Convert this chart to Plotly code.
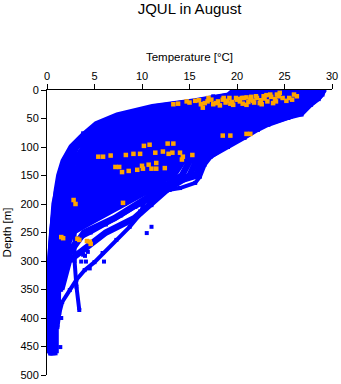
import plotly.graph_objects as go

# ---------------- data ----------------
DEPTH_LEVELS = [0, 10, 20, 30, 45, 60, 80, 100, 125, 150, 175, 200, 225, 250, 300, 350, 400, 462]

# temperature of each profile at DEPTH_LEVELS (None = profile ended)
PROFILE_TEMPS = [
    [19.8, 19.1, 15.6, 11.1, 7.4, 5.2, 3.8, 2.6, 1.75, 1.3, 1.05, 0.85, 0.7, 0.55, 0.35, 0.3, 0.25, 0.35],
    [20.0, 19.3, 15.9, 11.5, 7.9, 5.8, 4.3, 3.1, 2.3, 1.7, 1.1, 0.8, 0.65, 0.5, 0.35, 0.3, 0.3, 0.35],
    [20.5, 19.6, 16.4, 12.3, 8.7, 6.6, 5.1, 3.9, 2.9, 2.2, 1.4, 0.9, 0.7, 0.6, 0.4, 0.35, 0.35, 0.45],
    [20.9, 20.0, 16.9, 13.0, 9.5, 7.4, 5.8, 4.6, 3.6, 2.8, 1.7, 1.0, 0.75, 0.6, 0.45, None, None, None],
    [21.3, 20.4, 17.5, 13.8, 10.4, 8.2, 6.6, 5.3, 4.3, 3.4, 2.0, 1.1, 0.85, 0.7, 0.5, 0.45, 0.45, 0.55],
    [21.7, 20.8, 18.1, 14.5, 11.2, 9.0, 7.4, 6.1, 4.9, 4.0, 2.4, 1.2, 0.9, 0.7, 0.55, 0.5, None, None],
    [22.2, 21.3, 18.7, 15.2, 12.1, 9.9, 8.2, 6.8, 5.6, 4.6, 2.7, 1.4, 1.0, 0.8, 0.6, 0.55, 0.55, None],
    [22.6, 21.8, 19.3, 16.0, 12.9, 10.7, 8.9, 7.5, 6.3, 5.2, 3.2, 1.7, 1.2, 0.9, 0.65, None, None, None],
    [23.0, 22.2, 19.9, 16.7, 13.8, 11.5, 9.7, 8.3, 7.0, 5.8, 3.6, 1.9, 1.3, 1.0, 0.7, 0.65, 0.65, 0.7],
    [23.5, 22.7, 20.4, 17.4, 14.6, 12.3, 10.5, 9.0, 7.6, 6.4, 4.1, 2.2, 1.5, 1.0, 0.75, None, None, None],
    [23.9, 23.2, 21.0, 18.2, 15.5, 13.1, 11.3, 9.8, 8.3, 7.0, 4.6, 2.6, 1.7, 1.1, 0.8, 0.75, 0.75, None],
    [24.3, 23.6, 21.6, 18.9, 16.3, 13.9, 12.1, 10.5, 9.0, 7.7, 5.1, 2.9, 1.9, 1.2, 0.85, None, None, None],
    [24.8, 24.1, 22.2, 19.7, 17.2, 14.7, 12.8, 11.2, 9.6, 8.3, 5.6, 3.4, 2.1, 1.3, 0.9, 0.85, 0.85, 0.9],
    [25.2, 24.5, 22.8, 20.4, 18.0, 15.5, 13.6, 12.0, 10.3, 9.0, 6.2, 3.8, 2.4, 1.4, None, None, None, None],
    [25.6, 25.0, 23.4, 21.2, 18.9, 16.3, 14.4, 12.7, 11.0, 9.7, 6.8, 4.3, 2.7, 1.5, 1.0, 1.0, None, None],
    [26.1, 25.5, 23.9, 21.9, 19.7, 17.1, 15.2, 13.4, 11.6, 10.4, 7.3, 4.8, 3.0, 1.6, 1.1, None, None, None],
    [26.5, 25.9, 24.5, 22.6, 20.6, 17.9, 16.0, 14.2, 12.3, 11.1, 7.9, 5.4, 3.3, 1.7, 1.2, 1.15, 1.1, None],
    [26.9, 26.4, 25.1, 23.4, 21.4, 18.7, 16.7, 14.9, 13.0, 11.8, 8.5, 5.9, 3.7, 1.9, None, None, None, None],
    [27.4, 26.9, 25.7, 24.1, 22.3, 19.6, 17.5, 15.6, 13.7, 12.6, 9.2, 6.6, 4.0, 2.1, 1.4, None, None, None],
    [27.8, 27.3, 26.3, 24.8, 23.1, 20.4, 18.3, 16.4, 14.3, 13.3, 9.8, 7.2, 4.4, 2.3, 1.6, 1.4, None, None],
    [28.2, 27.8, 26.9, 25.6, 24.0, 21.2, 19.1, 17.1, 15.0, 14.2, 11.9, 9.6, 7.1, 3.9, 1.8, None, None, None],
    [28.6, 28.3, 27.4, 26.3, 24.8, 22.0, 19.8, 17.8, 15.7, 15.0, 12.6, 10.8, 9.2, 6.2, 2.3, 1.5, None, None],
    [29.1, 28.7, 28.0, 27.1, 25.7, 22.8, 20.6, 18.6, 16.3, 15.7, 10.8, 8.2, 5.3, 2.6, 1.6, 1.45, None, None],
]

# warmest profile (lower-right edge, crossing down to ~416 m)
EDGE_PROFILE_T = [29.2, 29.0, 28.6, 27.8, 26.8, 25.4, 23.3, 22.2, 20.8, 19.05, 17.25, 16.6, 16.1, 15.6,
                  14.0, 12.9, 10.8, 10.2, 9.9, 8.7, 7.3, 5.85, 5.0, 3.96, 3.1, 2.4, 1.6, 1.3, 1.1]
EDGE_PROFILE_D = [0, 8, 16, 26, 43, 49, 61, 70, 84, 100, 117, 131, 152, 163,
                  172, 175, 181, 195, 216, 240, 263, 286, 302, 316, 333, 351, 372, 391, 416]

# profile ending at ~386 m with a near-constant 3 degC below 250 m
B_PROFILE_T = [24.6, 23.9, 22.0, 19.5, 17.0, 14.5, 12.6, 11.0, 9.4, 8.0, 5.4, 3.3, 3.0, 2.9, 2.9, 3.1, 3.4]
B_PROFILE_D = [0, 10, 20, 30, 45, 60, 80, 100, 125, 150, 175, 200, 225, 250, 300, 345, 386]

# a further lower profile fanning out below the main body
C_PROFILE_T = [12.9, 11.0, 9.3, 7.8, 6.2, 4.6, 3.2, 2.3, 1.9]
C_PROFILE_D = [175, 190, 205, 220, 236, 250, 262, 280, 300]

# isolated blue observations
ISOLATED_T = [9.8, 9.8, 11.0, 10.5, 11.0, 4.3, 3.8, 3.6, 4.1, 6.0, 4.5, 4.0, 1.5, 1.4, 10.5, 3.8, 28.0, 28.7, 17.5]
ISOLATED_D = [201, 213, 202, 251, 240, 284, 289, 301, 301, 301, 313, 291, 400, 451, 33, 76, 8, 5, 11]

# orange observations
ORANGE_T = [14.7, 15.6, 16.6, 16.4, 17.3, 17.8, 18.5, 19.2, 20.0, 20.7, 21.4, 22.1, 22.8, 23.5, 24.2, 24.5,
            22.4, 21.0, 19.6, 18.2, 23.8, 25.2, 25.8, 26.3, 13.3, 13.8,
            15.0, 16.0, 16.9, 17.5, 18.0, 18.8, 19.0, 19.5, 19.9, 20.3, 20.6, 21.0, 21.2, 21.7, 22.0,
            22.5, 22.9, 23.2, 23.6, 24.0, 24.4, 24.8, 23.1, 21.8, 20.2, 18.6, 17.0, 16.2, 19.3, 22.6,
            24.1, 25.5, 26.0, 21.5, 20.5,
            10.2, 10.8, 12.7, 13.3, 5.4, 5.9, 6.7, 8.3, 9.1, 9.8, 11.4, 12.2, 12.8, 13.2, 14.0, 14.3,
            14.2, 11.5, 10.7, 10.0, 7.2, 7.6, 7.9, 8.6, 9.5, 10.1, 11.0, 11.5, 12.4, 15.3,
            18.5, 19.3, 21.0, 21.4,
            2.8, 3.0, 8.0, 1.5, 1.7, 3.2, 3.4, 4.2, 4.5, 4.6]
ORANGE_D = [20, 19, 23, 31, 17, 23, 17, 14, 17, 14, 17, 14, 11, 8, 8, 5,
            23, 26, 26, 27, 23, 19, 17, 11, 25, 24,
            22, 18, 20, 25, 20, 22, 19, 21, 14, 20, 24, 13, 21, 19, 11,
            18, 15, 20, 12, 16, 11, 14, 9, 22, 16, 14, 14, 25, 24, 25,
            20, 14, 8, 12, 14,
            98, 96, 94, 94, 117, 117, 115, 114, 112, 112, 110, 108, 112, 110, 110, 117,
            122, 128, 131, 133, 135, 135, 144, 142, 140, 138, 138, 138, 137, 114,
            80, 80, 77, 77,
            193, 200, 198, 258, 260, 261, 263, 265, 266, 270]

TITLE = "JQUL in August"
X_TITLE = "Temperature [°C]"
Y_TITLE = "Depth [m]"
X_TICKS = [0, 5, 10, 15, 20, 25, 30]
Y_TICKS = [0, 50, 100, 150, 200, 250, 300, 350, 400, 450, 500]

# ---------------- build traces ----------------
px, py = [], []
for row in PROFILE_TEMPS:
    for t, d in zip(row, DEPTH_LEVELS):
        if t is not None:
            px.append(t)
            py.append(d)
    px.append(None)
    py.append(None)

sx, sy = [], []
for tl, dl in ((EDGE_PROFILE_T, EDGE_PROFILE_D), (B_PROFILE_T, B_PROFILE_D), (C_PROFILE_T, C_PROFILE_D)):
    sx += list(tl) + [None]
    sy += list(dl) + [None]

BLUE = "#0000ff"
ORANGE = "#ffa500"
FONT = "Liberation Sans, Arial, Helvetica, sans-serif"

fig = go.Figure()
fig.add_trace(go.Scatter(x=px, y=py, mode="lines+markers",
                         line=dict(color=BLUE, width=6.5),
                         marker=dict(color=BLUE, size=4, symbol="square"),
                         connectgaps=False, hoverinfo="skip"))
fig.add_trace(go.Scatter(x=sx, y=sy, mode="lines+markers",
                         line=dict(color=BLUE, width=4),
                         marker=dict(color=BLUE, size=4, symbol="square"),
                         connectgaps=False, hoverinfo="skip"))
fig.add_trace(go.Scatter(x=ISOLATED_T, y=ISOLATED_D, mode="markers",
                         marker=dict(color=BLUE, size=4, symbol="square"), hoverinfo="skip"))
fig.add_trace(go.Scatter(x=ORANGE_T, y=ORANGE_D, mode="markers",
                         marker=dict(color=ORANGE, size=4.5, symbol="square"), hoverinfo="skip"))

fig.update_layout(
    width=341, height=384,
    margin=dict(l=47, r=9, t=90, b=9, autoexpand=False),
    paper_bgcolor="white", plot_bgcolor="white",
    showlegend=False,
    font=dict(family=FONT, color="black", size=11),
    title=dict(text=TITLE, x=0.5, xref="paper", xanchor="center",
               y=1 - 8.5 / 384, yref="container", yanchor="middle",
               font=dict(family=FONT, size=15, color="black")),
)
fig.update_xaxes(side="top", range=[0, 30], tickvals=X_TICKS, ticks="outside", ticklen=5,
                 tickcolor="black", showline=True, linecolor="black", linewidth=1,
                 showgrid=False, zeroline=False, tickfont=dict(size=11), automargin=False,
                 title=dict(text=X_TITLE, font=dict(size=11.5), standoff=5))
fig.update_yaxes(range=[500, 0], tickvals=Y_TICKS, ticks="outside", ticklen=5,
                 tickcolor="black", showline=True, linecolor="black", linewidth=1,
                 showgrid=False, zeroline=False, tickfont=dict(size=11), automargin=False,
                 title=dict(text=Y_TITLE, font=dict(size=11.5), standoff=6))

fig.write_html("out.html")
